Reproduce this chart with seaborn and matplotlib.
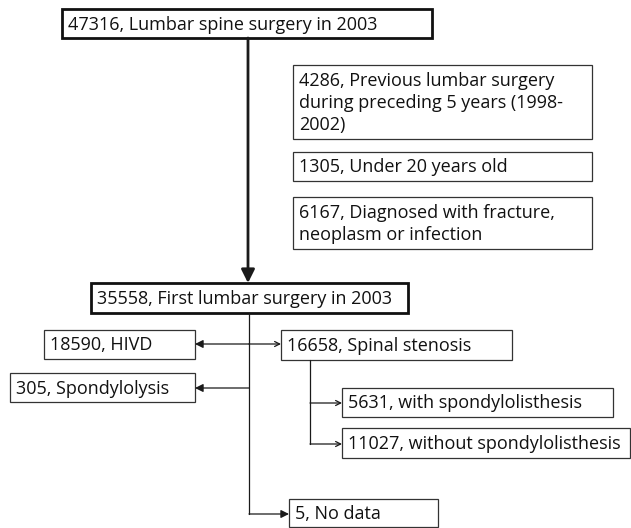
import matplotlib
matplotlib.use("Agg")
import matplotlib.pyplot as plt
import matplotlib.patches as patches
import seaborn as sns

# =========================
# data
# =========================
COUNTS = [47316, 4286, 1305, 6167, 35558, 18590, 16658, 305, 5631, 11027, 5]
LABELS = [
    "Lumbar spine surgery in 2003",
    "Previous lumbar surgery\nduring preceding 5 years (1998-\n2002)",
    "Under 20 years old",
    "Diagnosed with fracture,\nneoplasm or infection",
    "First lumbar surgery in 2003",
    "HIVD",
    "Spinal stenosis",
    "Spondylolysis",
    "with spondylolisthesis",
    "without spondylolisthesis",
    "No data",
]

# layout in pixels: (left, top, right, bottom, thick)
BOXES = [
    (62, 9, 432, 38, True),
    (293, 65, 592, 139, False),
    (293, 152, 592, 181, False),
    (293, 197, 592, 249, False),
    (91, 283, 408, 313, True),
    (44, 330, 195, 359, False),
    (281, 330, 512, 360, False),
    (10, 373, 195, 402, False),
    (342, 388, 613, 417, False),
    (342, 428, 630, 458, False),
    (289, 499, 438, 527, False),
]

sns.set_theme(style="white")
plt.rcParams["font.family"] = ["Open Sans", "DejaVu Sans"]

fig = plt.figure(figsize=(6.31, 5.28), dpi=100)
ax = fig.add_axes([0, 0, 1, 1])
ax.set_xlim(0, 631)
ax.set_ylim(528, 0)
ax.axis("off")

FS = 13

for (l, t, r, b, thick), n, lab in zip(BOXES, COUNTS, LABELS):
    ax.add_patch(patches.Rectangle((l, t), r - l, b - t, fill=False,
                                   lw=2.0 if thick else 0.9,
                                   ec="#111111" if thick else "#333333"))
    txt = f"{n}, {lab}"
    if "\n" in lab:
        ax.text(l + 6, t + 7, txt, ha="left", va="top", fontsize=FS,
                linespacing=1.3, color="#111111")
    else:
        ax.text(l + 6, (t + b) / 2 + 1, txt, ha="left", va="center",
                fontsize=FS, color="#111111")

k = "k"
# main trunk
ax.annotate("", xy=(248, 283), xytext=(248, 38),
            arrowprops=dict(arrowstyle="-|>", lw=2.0, color=k,
                            mutation_scale=20, shrinkA=0, shrinkB=0))
# lower trunk
ax.plot([249, 249], [313, 514], color=k, lw=0.9)
# HIVD / stenosis
ax.annotate("", xy=(195, 344), xytext=(249, 344),
            arrowprops=dict(arrowstyle="-|>", lw=0.9, color=k,
                            mutation_scale=12, shrinkA=0, shrinkB=0))
ax.annotate("", xy=(281, 344), xytext=(249, 344),
            arrowprops=dict(arrowstyle="->", lw=0.9, color=k,
                            mutation_scale=9, shrinkA=0, shrinkB=0))
# spondylolysis
ax.annotate("", xy=(195, 388), xytext=(249, 388),
            arrowprops=dict(arrowstyle="-|>", lw=0.9, color=k,
                            mutation_scale=12, shrinkA=0, shrinkB=0))
# no data
ax.annotate("", xy=(289, 514), xytext=(249, 514),
            arrowprops=dict(arrowstyle="-|>", lw=0.9, color=k,
                            mutation_scale=12, shrinkA=0, shrinkB=0))
# stenosis branch
ax.plot([310, 310], [360, 444], color=k, lw=0.9)
for y in (403, 444):
    ax.annotate("", xy=(342, y), xytext=(310, y),
                arrowprops=dict(arrowstyle="->", lw=0.9, color=k,
                                mutation_scale=9, shrinkA=0, shrinkB=0))

fig.savefig("out.png", dpi=100)
